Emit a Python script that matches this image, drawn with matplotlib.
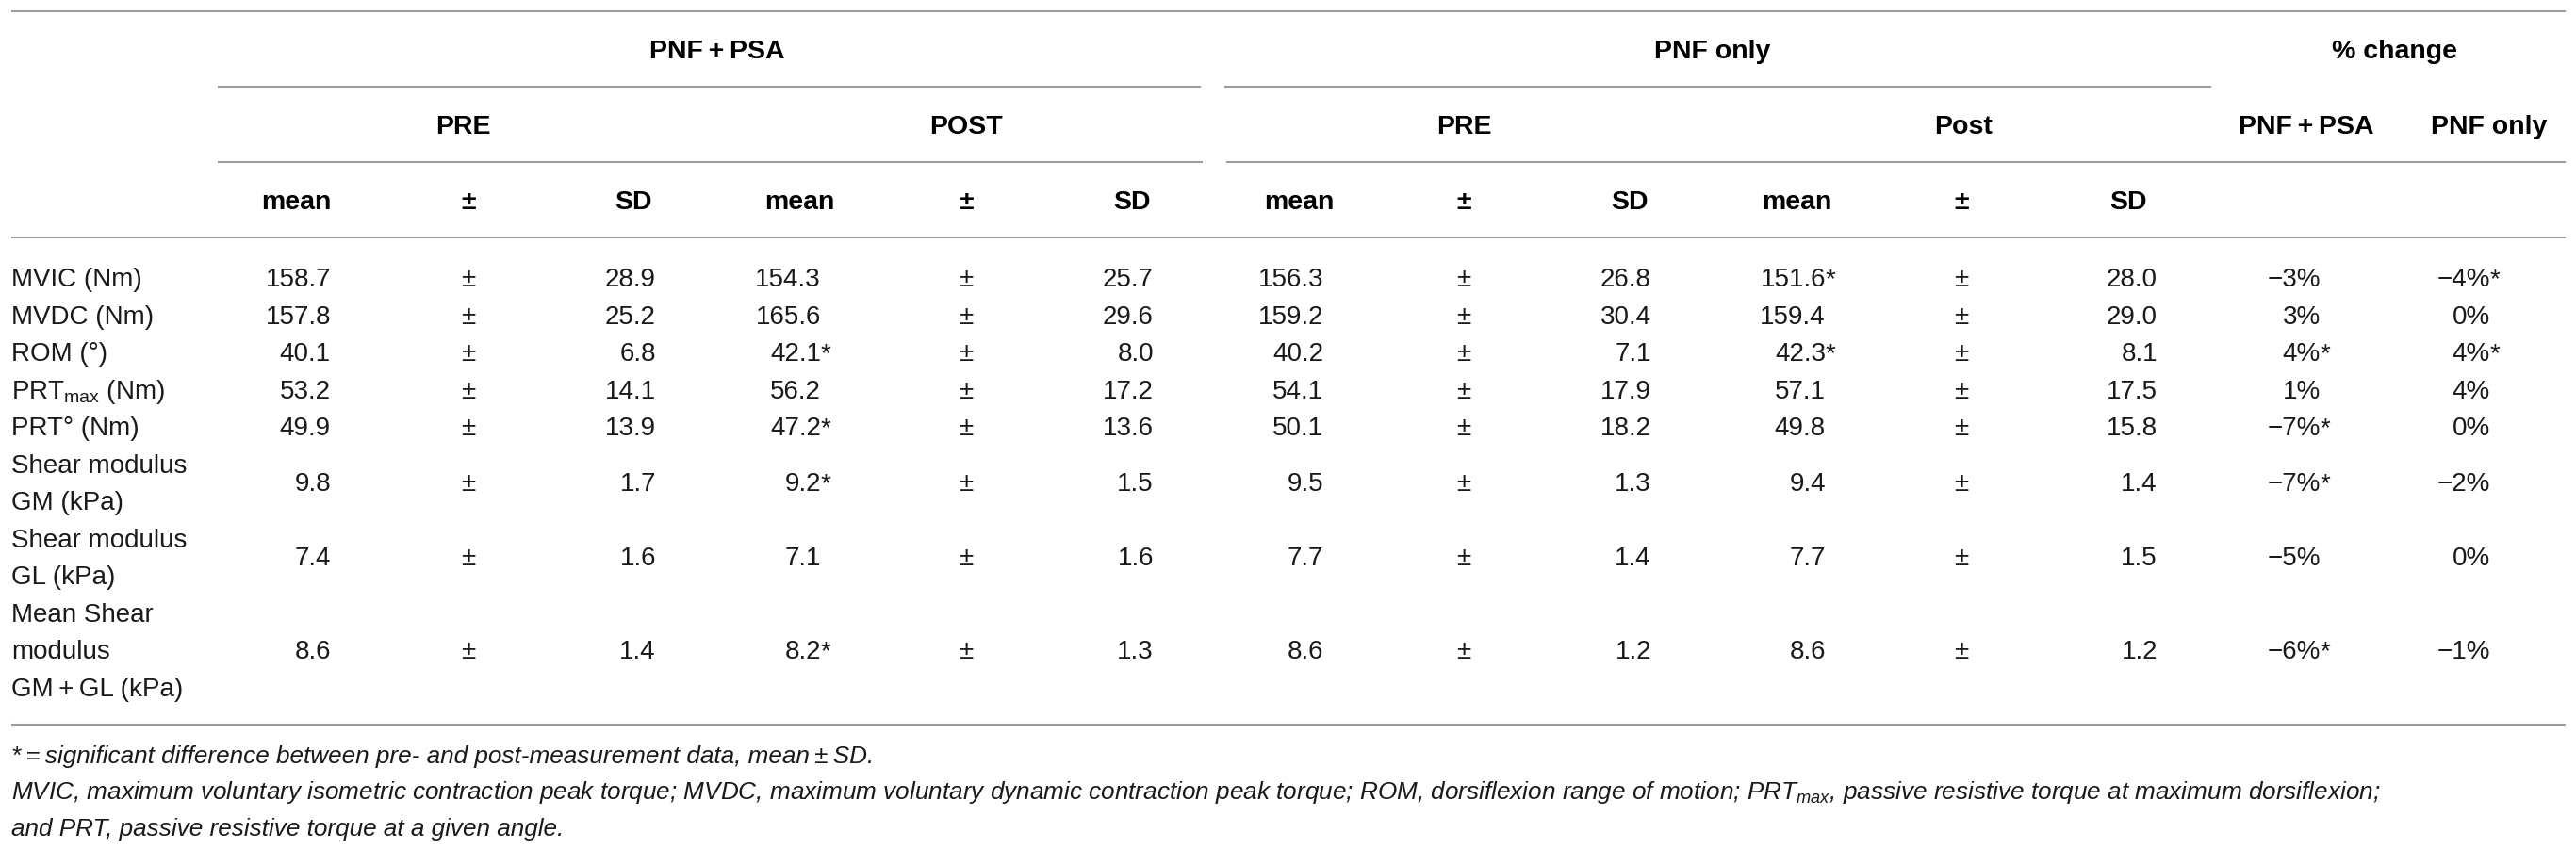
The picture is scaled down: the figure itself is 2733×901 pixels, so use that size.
import matplotlib
matplotlib.use('Agg')
import matplotlib.pyplot as plt

plt.rcParams['font.family'] = ['Liberation Sans', 'DejaVu Sans']
plt.rcParams['mathtext.fontset'] = 'custom'
plt.rcParams['mathtext.rm'] = 'Liberation Sans'
plt.rcParams['mathtext.it'] = 'Liberation Sans:italic'

# row labels
labels = ['MVIC (Nm)', 'MVDC (Nm)', 'ROM (°)', 'PRT$_{\\mathrm{max}}$ (Nm)', 'PRT° (Nm)',
          'Shear modulus\nGM (kPa)', 'Shear modulus\nGL (kPa)',
          'Mean Shear\nmodulus\nGM\u2009+\u2009GL (kPa)']

# PNF + PSA group
psa_pre_mean = [158.7, 157.8, 40.1, 53.2, 49.9, 9.8, 7.4, 8.6]
psa_pre_sd = [28.9, 25.2, 6.8, 14.1, 13.9, 1.7, 1.6, 1.4]
psa_post_mean = [154.3, 165.6, 42.1, 56.2, 47.2, 9.2, 7.1, 8.2]
psa_post_sig = [0, 0, 1, 0, 1, 1, 0, 1]
psa_post_sd = [25.7, 29.6, 8.0, 17.2, 13.6, 1.5, 1.6, 1.3]

# PNF only group
pnf_pre_mean = [156.3, 159.2, 40.2, 54.1, 50.1, 9.5, 7.7, 8.6]
pnf_pre_sd = [26.8, 30.4, 7.1, 17.9, 18.2, 1.3, 1.4, 1.2]
pnf_post_mean = [151.6, 159.4, 42.3, 57.1, 49.8, 9.4, 7.7, 8.6]
pnf_post_sig = [1, 0, 1, 0, 0, 0, 0, 0]
pnf_post_sd = [28.0, 29.0, 8.1, 17.5, 15.8, 1.4, 1.5, 1.2]

# % change
chg_psa = [-3, 3, 4, 1, -7, -7, -5, -6]
chg_psa_sig = [0, 0, 1, 0, 1, 1, 0, 1]
chg_pnf = [-4, 0, 4, 4, 0, -2, 0, -1]
chg_pnf_sig = [1, 0, 1, 0, 0, 0, 0, 0]

footnotes = ['*\u2009=\u2009significant difference between pre- and post-measurement data, mean\u2009±\u2009SD.',
             'MVIC, maximum voluntary isometric contraction peak torque; MVDC, maximum voluntary dynamic '
             'contraction peak torque; ROM, dorsiflexion range of motion; PRT$_{\\mathit{max}}$, passive '
             'resistive torque at maximum dorsiflexion;',
             'and PRT, passive resistive torque at a given angle.']

W, H = 2733, 901
fig = plt.figure(figsize=(W / 100, H / 100), dpi=100)
ax = fig.add_axes([0, 0, 1, 1])
ax.set_xlim(0, W)
ax.set_ylim(H, 0)
ax.axis('off')

txt = '#1a1a1a'
linec = '#9c9c9c'
fs = 20
fsb = 20.5
fsi = 18.8
base = 10  # centre -> baseline offset in px

def line(y, x0, x1):
    ax.plot([x0, x1], [y, y], color=linec, lw=1.5, solid_capstyle='butt')

def bold(x, y, s):
    ax.text(x, y + base, s, ha='center', va='baseline', fontsize=fsb, fontweight='bold', color='black')

# rules
line(11.7, 12, 2722)
line(91.7, 231, 1274)
line(91.7, 1299, 2346)
line(172.3, 231, 1276)
line(172.3, 1301, 2722)
line(252.3, 12, 2722)
line(769, 12, 2722)

# header rows
bold(761, 52, 'PNF\u2009+\u2009PSA')
bold(1817, 52, 'PNF only')
bold(2541, 52, '% change')
bold(491, 132, 'PRE')
bold(1025, 132, 'POST')
bold(1553, 132, 'PRE')
bold(2083, 132, 'Post')
bold(2447, 132, 'PNF\u2009+\u2009PSA')
bold(2641, 132, 'PNF only')
for xc, s in zip([314, 497, 672, 848, 1025, 1201, 1378, 1553, 1729, 1906, 2081, 2258],
                 ['mean', '±', 'SD'] * 4):
    bold(xc, 212, s)

# body rows
nlines = [len(l.split('\n')) for l in labels]
lh = 39.5
y = 252.3 + 22
centres = []
for n in nlines:
    centres.append(y + lh * n / 2)
    y += lh * n

def fmt_pct(v):
    return ('\u2212' if v < 0 else '') + '%d%%' % abs(v)

num_cols = [
    (psa_pre_mean, None, 351), (psa_pre_sd, None, 696),
    (psa_post_mean, psa_post_sig, 871), (psa_post_sd, None, 1224),
    (pnf_pre_mean, None, 1404), (pnf_pre_sd, None, 1752),
    (pnf_post_mean, pnf_post_sig, 1937), (pnf_post_sd, None, 2289),
]
pm_cols = [497, 1025, 1553, 2081]

for i, yc in enumerate(centres):
    parts = labels[i].split('\n')
    for j, p in enumerate(parts):
        yl = yc + (j - (len(parts) - 1) / 2) * lh
        ax.text(12, yl + base, p, ha='left', va='baseline', fontsize=fs, color=txt)
    for vals, sig, xr in num_cols:
        ax.text(xr, yc + base, '%.1f' % vals[i], ha='right', va='baseline', fontsize=fs, color=txt)
        if sig is not None and sig[i]:
            ax.text(xr, yc + base, '*', ha='left', va='baseline', fontsize=fs, color=txt)
    for xp in pm_cols:
        ax.text(xp, yc + base, '±', ha='center', va='baseline', fontsize=fs, color=txt)
    for vals, sig, xr in [(chg_psa, chg_psa_sig, 2462), (chg_pnf, chg_pnf_sig, 2642)]:
        ax.text(xr, yc + base, fmt_pct(vals[i]), ha='right', va='baseline', fontsize=fs, color=txt)
        if sig[i]:
            ax.text(xr, yc + base, '*', ha='left', va='baseline', fontsize=fs, color=txt)

# footnotes
for yf, s in zip([800, 838, 877], footnotes):
    ax.text(12, yf + base, s, ha='left', va='baseline', fontsize=fsi, style='italic', color=txt)

fig.savefig('out.png', dpi=100, facecolor='white')
